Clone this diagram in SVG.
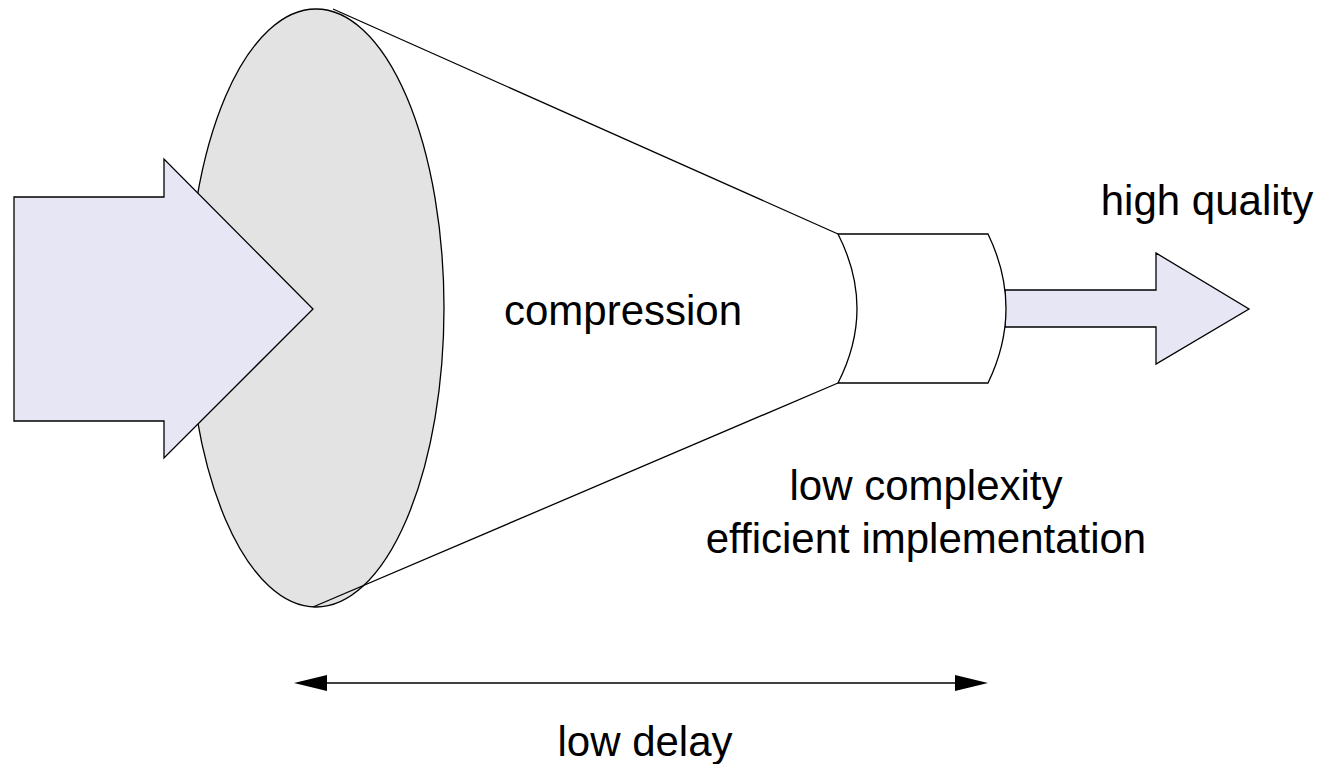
<svg xmlns="http://www.w3.org/2000/svg" width="1320" height="764" viewBox="0 0 1320 764">
<style>
.ln{stroke:#000;stroke-width:1.3;fill:none}
.arrow{fill:#e6e6f4;stroke:#000;stroke-width:1.3;stroke-linejoin:miter}
.t{font-family:"Liberation Sans",Arial,sans-serif;font-size:42px;fill:#000;text-anchor:middle}
</style>
<rect width="1320" height="764" fill="#fff"/>
<g id="funnel">
<ellipse cx="316" cy="308" rx="128" ry="299" fill="#e3e3e3" stroke="#000" stroke-width="1.3"/>
<line class="ln" x1="333" y1="9" x2="838" y2="234"/>
<line class="ln" x1="313" y1="607" x2="838" y2="383"/>
</g>
<g id="output-arrow">
<polygon class="arrow" points="1005,290 1156,290 1156,253 1249,309 1156,364 1156,327 1005,327"/>
</g>
<g id="cylinder">
<path d="M838,234 L988,234 Q1024,308.5 988,383 L838,383 Q876,308.5 838,234 Z" fill="#fff" stroke="#000" stroke-width="1.3"/>
</g>
<g id="input-arrow">
<polygon class="arrow" points="14,197 164,197 164,159 313,309 164,458 164,421 14,421"/>
</g>
<g id="connectors">
<line x1="320" y1="683" x2="962" y2="683" stroke="#000" stroke-width="1.5"/>
<polygon points="294,683 327,675 327,691" fill="#000"/>
<polygon points="988,683 955,675 955,691" fill="#000"/>
</g>
<g id="labels">
<text class="t" x="623" y="325">compression</text>
<text class="t" x="1207" y="215">high quality</text>
<text class="t" x="926" y="500">low complexity</text>
<text class="t" x="926" y="553">efficient implementation</text>
<text class="t" x="645" y="756">low delay</text>
</g>
</svg>
